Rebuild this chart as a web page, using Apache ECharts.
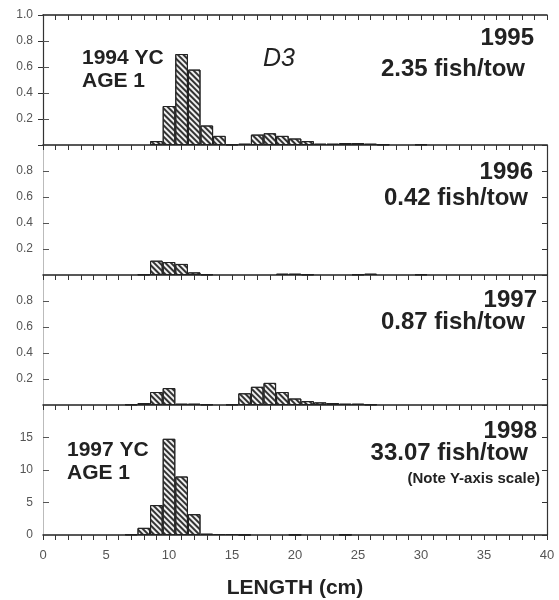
<!DOCTYPE html>
<html>
<head>
<meta charset="utf-8">
<script src="https://cdn.jsdelivr.net/npm/echarts@6/dist/echarts.min.js"></script>
<style>
html,body{margin:0;padding:0;background:#fff;}
#chart{width:559px;height:600px;}
</style>
</head>
<body>
<div id="chart"></div>
<script>
// Length bins (cm, bar centres)
const binCenters = [7,8,9,10,11,12,13,14,15,16,17,18,19,20,21,22,23,24,25,26,27,28,29,30];
// Relative frequency per bin for each year
const values1995 = [0,0,0.03,0.30,0.70,0.58,0.15,0.07,0.005,0.01,0.08,0.09,0.07,0.05,0.03,0.01,0.01,0.015,0.015,0.01,0.005,0,0,0.005];
const values1996 = [0,0.005,0.11,0.10,0.085,0.02,0.005,0,0,0,0,0,0.01,0.01,0.005,0,0,0,0.005,0.01,0,0,0,0.005];
const values1997 = [0.005,0.015,0.10,0.13,0.01,0.01,0.005,0,0.005,0.09,0.14,0.17,0.10,0.05,0.03,0.02,0.015,0.01,0.01,0.005,0,0,0,0];
const values1998 = [0.1,1.1,4.6,14.8,9.0,3.2,0.2,0.15,0.15,0.05,0,0,0,0.05,0,0,0,0.05,0,0,0,0,0,0];
const years = ['1995','1996','1997','1998'];
const densities = ['2.35 fish/tow','0.42 fish/tow','0.87 fish/tow','33.07 fish/tow'];
const xTickLabels = ['0','5','10','15','20','25','30','35','40'];
const yMaxes = [1, 1, 1, 20];
const yIntervals = [0.2, 0.2, 0.2, 5];

const allValues = [values1995, values1996, values1997, values1998];
const tops = [15, 145, 275, 405];
const H = 130;
const FONT = '"Liberation Sans", Arial, sans-serif';
const chart = echarts.init(document.getElementById('chart'));

const grids = [], xAxes = [], yAxes = [], series = [];
for (let i = 0; i < 4; i++) {
  grids.push({left: 43, right: 12, top: tops[i], height: H});
  xAxes.push({
    gridIndex: i, type: 'value', min: 0, max: 40, interval: 1,
    axisLine: {show: true, onZero: false, lineStyle: {color: '#222', width: 1.5}},
    axisTick: {show: true, length: 5, inside: false, lineStyle: {color: '#333'}},
    axisLabel: {show: i === 3, margin: 14, color: '#555', fontSize: 13, fontFamily: FONT,
      formatter: v => xTickLabels.indexOf(String(v)) >= 0 ? String(v) : ''},
    splitLine: {show: false}
  });
  const isBig = i === 3;
  yAxes.push({
    gridIndex: i, type: 'value', min: 0, max: yMaxes[i], interval: yIntervals[i], position: 'left',
    axisLine: {show: true, lineStyle: {color: '#bbb', width: 1}},
    axisTick: {show: true, inside: true, length: 6, lineStyle: {color: '#555'}},
    axisLabel: {show: true, margin: 10, color: '#555', fontSize: 12, fontFamily: FONT,
      formatter: v => {
        if (isBig) return v >= yMaxes[i] ? '' : String(v);
        if (v < 0.01) return '';
        if (v > 0.99) return i === 0 ? '1.0' : '';
        return v.toFixed(1);
      }},
    splitLine: {show: false}
  });
  yAxes.push({
    gridIndex: i, type: 'value', min: 0, max: yMaxes[i], interval: yIntervals[i], position: 'right',
    axisLine: {show: true, lineStyle: {color: '#333', width: 1.2}},
    axisTick: {show: true, inside: true, length: 5, lineStyle: {color: '#333'}},
    axisLabel: {show: false}, splitLine: {show: false}
  });
  series.push({
    type: 'bar', xAxisIndex: i, yAxisIndex: 2 * i, barWidth: 12.6,
    data: binCenters.map((b, k) => [b, allValues[i][k] > 0 ? allValues[i][k] : null]),
    itemStyle: {
      color: '#f0f0f0', borderColor: '#222', borderWidth: 1,
      decal: {symbol: 'rect', symbolSize: 1, dashArrayX: [1, 0], dashArrayY: [1.5, 2],
        rotation: Math.PI / 4, color: '#333'}
    },
    silent: true, animation: false
  });
}
// top axis of first panel
xAxes.push({
  gridIndex: 0, type: 'value', min: 0, max: 40, interval: 1, position: 'top',
  axisLine: {show: true, onZero: false, lineStyle: {color: '#222', width: 1.5}},
  axisTick: {show: true, inside: true, length: 5, lineStyle: {color: '#333'}},
  axisLabel: {show: false}, splitLine: {show: false}
});

function txt(x, y, s, size, align, opts) {
  return {
    type: 'text', x: x, y: y,
    style: {text: s, fill: '#222', font: (opts && opts.italic ? 'italic ' : '') + ((opts && opts.normal) ? 'normal ' : 'bold ') + size + 'px ' + FONT,
      textAlign: align, textVerticalAlign: 'middle'}
  };
}
const yearY = [38, 172, 300, 431];
const yearX = [534, 533, 537, 537];
const densY = [69, 198, 322, 453];
const densX = [525, 528, 525, 528];
const graphics = [];
for (let i = 0; i < 4; i++) {
  graphics.push(txt(yearX[i], yearY[i], years[i], 24, 'right'));
  graphics.push(txt(densX[i], densY[i], densities[i], 24, 'right'));
}
graphics.push(txt(540, 479, '(Note Y-axis scale)', 15, 'right'));
graphics.push(txt(82, 58, '1994 YC', 21, 'left'));
graphics.push(txt(82, 81, 'AGE 1', 21, 'left'));
graphics.push(txt(67, 450, '1997 YC', 21, 'left'));
graphics.push(txt(67, 473, 'AGE 1', 21, 'left'));
graphics.push(txt(263, 59, 'D3', 25, 'left', {italic: true, normal: true}));
graphics.push(txt(295, 588, 'LENGTH (cm)', 21, 'center'));

chart.setOption({
  animation: false,
  backgroundColor: '#fff',
  grid: grids, xAxis: xAxes, yAxis: yAxes, series: series,
  graphic: graphics
});
</script>
</body>
</html>
